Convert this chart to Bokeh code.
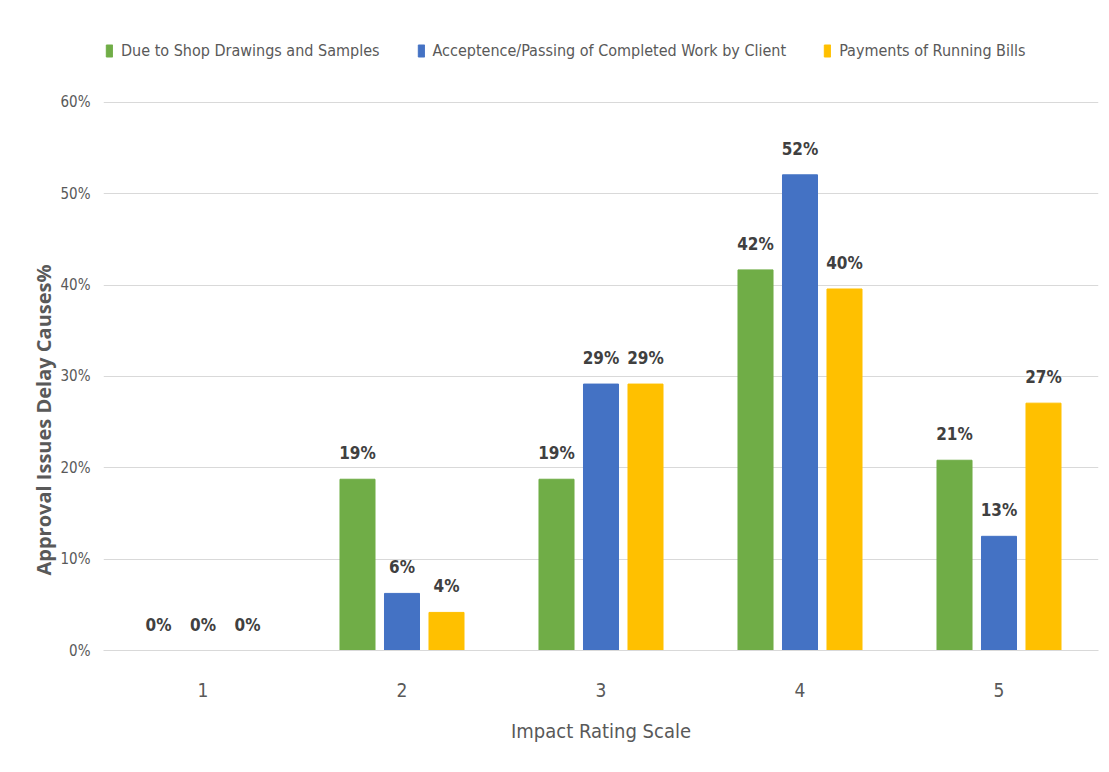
from bokeh.plotting import figure
from bokeh.models import (ColumnDataSource, FactorRange, NumeralTickFormatter, Legend,
                          LegendItem, LabelSet, Title, FixedTicker, Range1d)
from bokeh.transform import dodge
from bokeh.core.properties import value
from bokeh.embed import file_html
from bokeh.resources import INLINE

# ---- data ----
categories = ["1", "2", "3", "4", "5"]
shop_drawings = [0.0, 0.1875, 0.1875, 0.4167, 0.2083]
acceptance = [0.0, 0.0625, 0.2917, 0.5208, 0.125]
payments = [0.0, 0.0417, 0.2917, 0.3958, 0.2708]
series_names = ["Due to Shop Drawings and Samples",
                "Acceptence/Passing of Completed Work by Client",
                "Payments of Running Bills"]
y_ticks = [0.0, 0.1, 0.2, 0.3, 0.4, 0.5, 0.6]

colors = ["#70AD47", "#4472C4", "#FFC000"]
FONT = "DejaVu Sans Condensed"
GRAY = "#595959"


def pct(v):
    return "%d%%" % int(v * 100 + 0.5)


src = ColumnDataSource(dict(
    cat=categories,
    s0=shop_drawings, s1=acceptance, s2=payments,
    l0=[pct(v) for v in shop_drawings],
    l1=[pct(v) for v in acceptance],
    l2=[pct(v) for v in payments],
))

p = figure(x_range=FactorRange(factors=categories, range_padding=0),
           y_range=Range1d(0, 0.6788), width=1100, height=764,
           output_backend="svg", toolbar_location=None,
           min_border_left=103, min_border_right=2,
           min_border_top=30, min_border_bottom=114)

offsets = [-0.2236, 0.0, 0.2236]
items = []
for i, (col, off) in enumerate(zip(colors, offsets)):
    r = p.vbar(x=dodge("cat", off, range=p.x_range), top="s%d" % i, width=0.176,
               source=src, fill_color=col, line_color=col)
    items.append(LegendItem(label=series_names[i], renderers=[r]))
    lab = LabelSet(x=dodge("cat", off, range=p.x_range), y="s%d" % i, text="l%d" % i,
                   source=src, text_align="center", text_baseline="middle",
                   y_offset=26, text_font=value(FONT), text_font_size="17px",
                   text_font_style="bold", text_color="#404040")
    p.add_layout(lab)

legend = Legend(items=items, orientation="horizontal", location=(2, 590),
                label_text_font=FONT, label_text_font_size="16px",
                label_text_color=GRAY, glyph_width=8, glyph_height=15,
                label_standoff=8, spacing=37, border_line_alpha=0,
                background_fill_alpha=0, padding=0, margin=0)
p.add_layout(legend, "center")

p.outline_line_color = None
p.xgrid.grid_line_color = None
p.ygrid.grid_line_color = "#d9d9d9"
p.ygrid.ticker = FixedTicker(ticks=y_ticks)

p.yaxis.ticker = FixedTicker(ticks=y_ticks)
p.yaxis.formatter = NumeralTickFormatter(format="0%")
p.yaxis.axis_line_color = None
p.yaxis.major_tick_line_color = None
p.yaxis.minor_tick_line_color = None
p.yaxis.major_label_text_font = FONT
p.yaxis.major_label_text_font_size = "15px"
p.yaxis.major_label_text_color = GRAY
p.yaxis.major_label_standoff = 7

ytitle = Title(text="Approval Issues Delay Causes%", align="left", offset=75,
               text_font="Open Sans", text_font_size="20px", text_font_style="bold",
               text_color=GRAY, standoff=1)
p.add_layout(ytitle, "left")

p.xaxis.axis_line_color = "#d9d9d9"
p.xaxis.major_tick_line_color = None
p.xaxis.minor_tick_line_color = None
p.xaxis.major_label_text_font = FONT
p.xaxis.major_label_text_font_size = "19px"
p.xaxis.major_label_text_color = GRAY
p.xaxis.major_label_standoff = 26
p.xaxis.axis_label = "Impact Rating Scale"
p.xaxis.axis_label_text_font = FONT
p.xaxis.axis_label_text_font_size = "20px"
p.xaxis.axis_label_text_font_style = "normal"
p.xaxis.axis_label_text_color = GRAY
p.xaxis.axis_label_standoff = 19

open("out.html", "w").write(file_html(p, INLINE))
